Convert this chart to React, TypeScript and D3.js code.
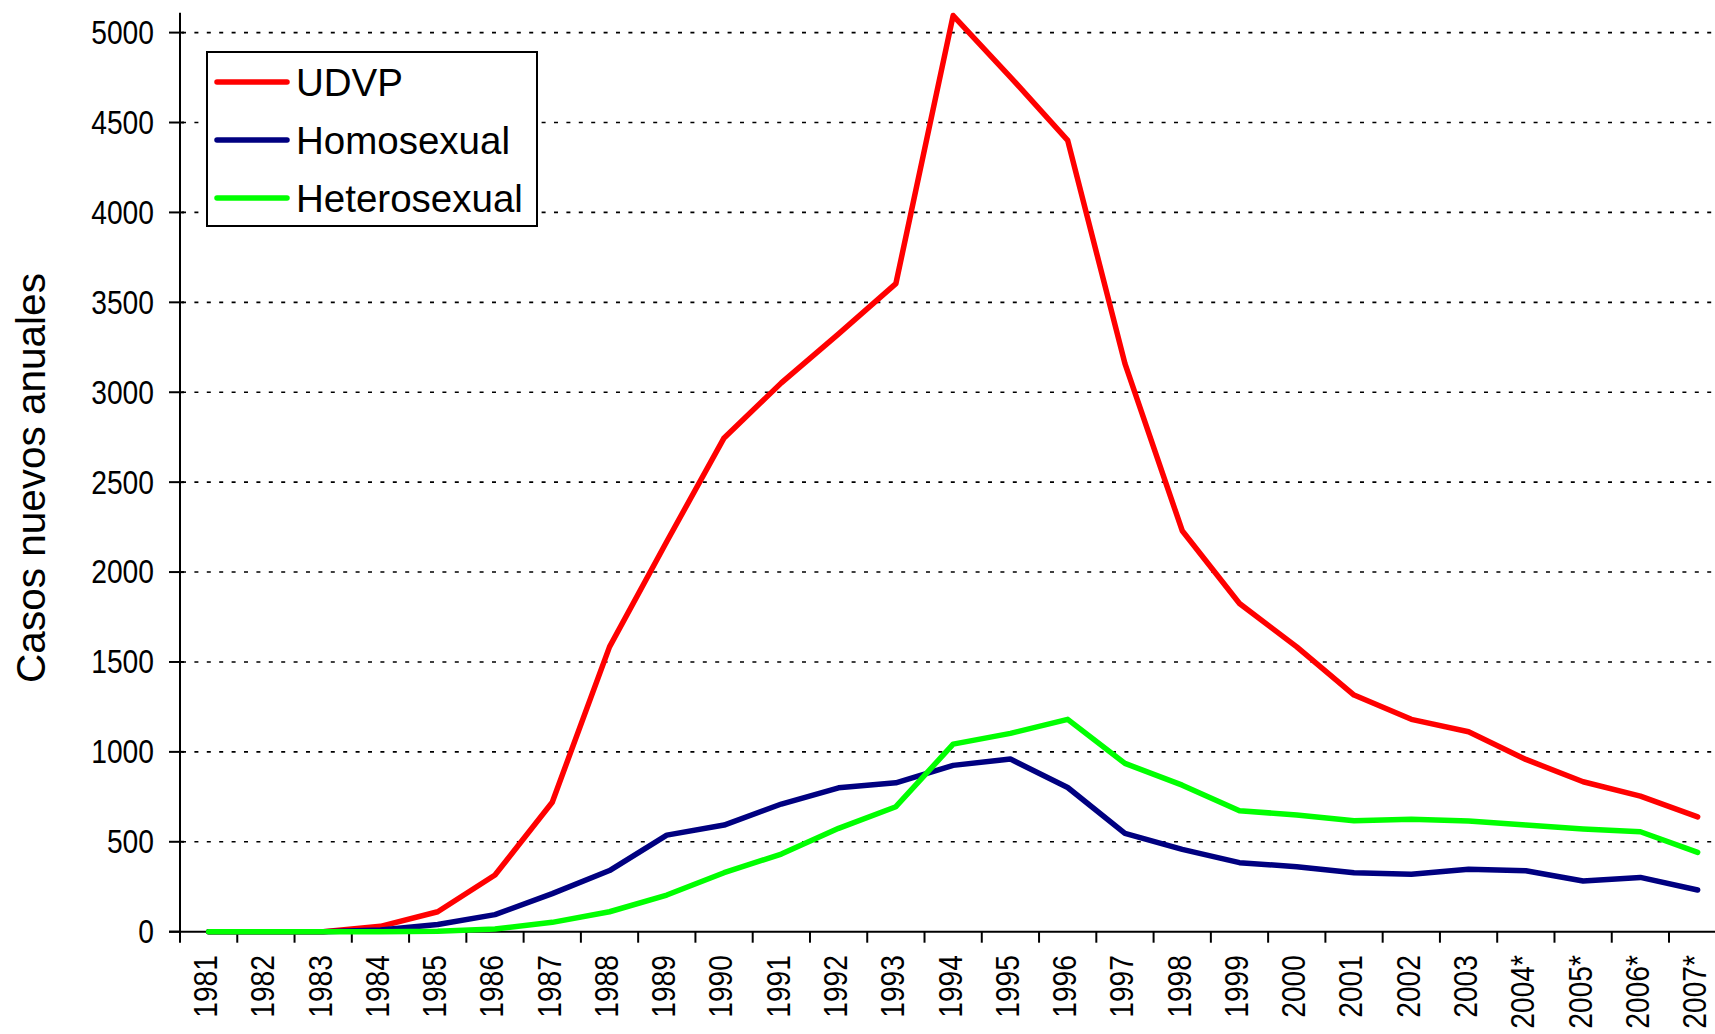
import React, { useEffect, useRef } from 'react';
import * as d3 from 'd3';

// casos nuevos anuales por via de transmision
const years = [
  '1981', '1982', '1983', '1984', '1985', '1986', '1987', '1988', '1989',
  '1990', '1991', '1992', '1993', '1994', '1995', '1996', '1997', '1998',
  '1999', '2000', '2001', '2002', '2003', '2004*', '2005*', '2006*', '2007*'
];
const udvp = [0, 0, 0, 30, 111, 315, 720, 1584, 2170, 2746, 3052, 3325, 3604, 5095,
  4753, 4401, 3159, 2230, 1825, 1584, 1316, 1181, 1112, 958, 834, 754, 639];
const homosexual = [0, 0, 0, 10, 40, 95, 212, 340, 537, 593, 710, 800, 828, 925,
  960, 802, 547, 458, 384, 361, 328, 319, 347, 339, 282, 302, 232];
const heterosexual = [0, 0, 0, 0, 3, 15, 52, 111, 204, 328, 432, 575, 695, 1043,
  1103, 1181, 936, 815, 673, 649, 617, 626, 615, 593, 571, 556, 441];
const yTicks = [0, 500, 1000, 1500, 2000, 2500, 3000, 3500, 4000, 4500, 5000];

const seriesNames = ['UDVP', 'Homosexual', 'Heterosexual'];
const seriesColors = ['#FF0000', '#000080', '#00FF00'];

const width = 1715;
const height = 1034;
const left = 180;
const bandW = 57.27;
const font = 'Liberation Sans, Arial, sans-serif';

function App() {
  const ref = useRef<SVGSVGElement>(null);

  useEffect(() => {
    drawChart();
  }, []);

  function drawChart() {
    const svg = d3.select(ref.current);
    svg.selectAll('*').remove();

    const x = d3.scaleBand<string>()
      .domain(years)
      .range([left, left + years.length * bandW]);

    const y = d3.scaleLinear()
      .domain([0, 5000])
      .range([931.7, 32.6]);

    const y0 = y(0);

    // dotted gridlines
    svg.append('g')
      .selectAll('line')
      .data(yTicks.filter((t) => t > 0))
      .enter()
      .append('line')
      .attr('x1', left + 2)
      .attr('x2', width)
      .attr('y1', (d) => y(d))
      .attr('y2', (d) => y(d))
      .attr('stroke', '#000')
      .attr('stroke-width', 1.6)
      .attr('stroke-dasharray', '4 8.4');

    // y axis
    svg.append('line')
      .attr('x1', left).attr('x2', left)
      .attr('y1', y(5110)).attr('y2', y0 + 11)
      .attr('stroke', '#000').attr('stroke-width', 2);

    svg.append('g')
      .selectAll('line')
      .data(yTicks)
      .enter()
      .append('line')
      .attr('x1', left - 11)
      .attr('x2', (d) => (d === 0 ? left : left + 4))
      .attr('y1', (d) => y(d))
      .attr('y2', (d) => y(d))
      .attr('stroke', '#000')
      .attr('stroke-width', 2);

    svg.append('g')
      .selectAll('text')
      .data(yTicks)
      .enter()
      .append('text')
      .attr('transform', (d) => `translate(154, ${y(d)}) scale(0.83, 1)`)
      .attr('text-anchor', 'end')
      .attr('dominant-baseline', 'central')
      .attr('font-family', font)
      .attr('font-size', 34)
      .attr('fill', '#000')
      .text((d) => d);

    // x axis
    svg.append('line')
      .attr('x1', left - 11).attr('x2', width)
      .attr('y1', y0).attr('y2', y0)
      .attr('stroke', '#000').attr('stroke-width', 2);

    svg.append('g')
      .selectAll('line')
      .data(years.slice(1))
      .enter()
      .append('line')
      .attr('x1', (d) => x(d) as number)
      .attr('x2', (d) => x(d) as number)
      .attr('y1', y0)
      .attr('y2', y0 + 11)
      .attr('stroke', '#000')
      .attr('stroke-width', 2);

    svg.append('g')
      .selectAll('text')
      .data(years)
      .enter()
      .append('text')
      .attr('transform', (d) => `translate(${(x(d) as number) + bandW / 2 - 3}, 955) rotate(-90) scale(0.83, 1)`)
      .attr('text-anchor', 'end')
      .attr('dominant-baseline', 'central')
      .attr('font-family', font)
      .attr('font-size', 34)
      .attr('fill', '#000')
      .text((d) => d);

    // axis title
    svg.append('text')
      .attr('transform', 'translate(31, 478) rotate(-90)')
      .attr('text-anchor', 'middle')
      .attr('dominant-baseline', 'central')
      .attr('font-family', font)
      .attr('font-size', 40.5)
      .attr('fill', '#000')
      .text('Casos nuevos anuales');

    // lines
    const line = d3.line<number>()
      .x((_, i) => (x(years[i]) as number) + bandW / 2)
      .y((d) => y(d));

    [udvp, homosexual, heterosexual].forEach((s, i) => {
      svg.append('path')
        .attr('d', line(s))
        .attr('fill', 'none')
        .attr('stroke', seriesColors[i])
        .attr('stroke-width', 5.5)
        .attr('stroke-linejoin', 'round')
        .attr('stroke-linecap', 'round');
    });

    // legend
    const lg = svg.append('g');
    lg.append('rect')
      .attr('x', 207).attr('y', 52)
      .attr('width', 330).attr('height', 174)
      .attr('fill', '#fff')
      .attr('stroke', '#000')
      .attr('stroke-width', 2);

    seriesNames.forEach((name, i) => {
      const ly = 82 + i * 58;
      lg.append('line')
        .attr('x1', 217).attr('x2', 287)
        .attr('y1', ly).attr('y2', ly)
        .attr('stroke', seriesColors[i])
        .attr('stroke-width', 5.5)
        .attr('stroke-linecap', 'round');
      lg.append('text')
        .attr('x', 296).attr('y', ly)
        .attr('dominant-baseline', 'central')
        .attr('font-family', font)
        .attr('font-size', 38.5)
        .attr('fill', '#000')
        .text(name);
    });
  }

  return (
    <svg
      ref={ref}
      width={width}
      height={height}
      style={{ position: 'absolute', left: 0, top: 0, background: '#fff', display: 'block' }}
    />
  );
}

export default App;
